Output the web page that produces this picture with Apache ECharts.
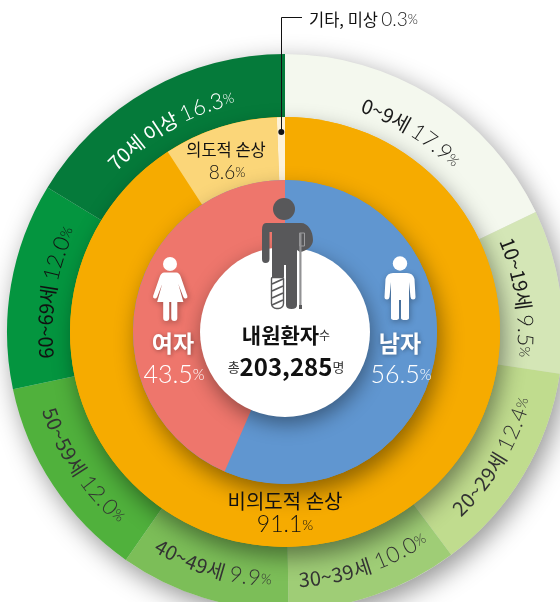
<!DOCTYPE html>
<html><head><meta charset="utf-8">
<style>html,body{margin:0;padding:0;background:#fff;overflow:hidden}#c{width:560px;height:602px}</style>
<script src="https://cdn.jsdelivr.net/npm/echarts@6/dist/echarts.min.js"></script>
</head><body><div id="c"></div>
<script>
const ageCategories = ['0~9세','10~19세','20~29세','30~39세','40~49세','50~59세','60~69세','70세 이상'];
const ageValues = [17.9,9.5,12.4,10.0,9.9,12.0,12.0,16.3];
const ageColors = ['#f4f8ee','#d4e6b6','#c0dc8e','#9fcd76','#7cbe58','#50b13c','#04953f','#057a3a'];
const ageTextColors = ['#1a1a1a','#1a1a1a','#333333','#333333','#333333','#333333','#111111','#ffffff'];
const injuryCategories = ['비의도적 손상','의도적 손상','기타, 미상'];
const injuryValues = [91.1,8.6,0.3];
const injuryColors = ['#f6ab00','#fbd679','#fdf2d8'];
const sexCategories = ['남자','여자'];
const sexValues = [56.5,43.5];
const sexColors = ['#6096d0','#ee766c'];
const totalLabel = '203,285';

const CX=285, CY=332;
const R={hub:85,sex:152,inj:215,age:278};
const chart=echarts.init(document.getElementById('c'),null,{renderer:'canvas'});
const KR='"Noto Sans CJK KR"', LIGHT='Lato';
const mctx=document.createElement('canvas').getContext('2d');

function caster(r,z,color,blur,ox,oy,alpha){
  return {type:'pie',silent:true,z:z,radius:[0,r],center:[CX,CY],startAngle:90,label:{show:false},labelLine:{show:false},animation:false,
    data:[{value:1,itemStyle:{color:color,shadowBlur:blur,shadowOffsetX:ox,shadowOffsetY:oy,shadowColor:'rgba(0,0,0,'+alpha+')'}}]};
}
function ring(name,r0,r,cats,vals,cols,z,extra){
  return Object.assign({type:'pie',name:name,silent:true,z:z,radius:[r0,r],center:[CX,CY],startAngle:90,clockwise:true,animation:false,
    label:{show:false},labelLine:{show:false},itemStyle:{borderWidth:0},
    data:cats.map((c,i)=>({name:c,value:vals[i],itemStyle:{color:cols[i]}}))},extra||{});
}

function arcChars(segs,midDeg,r,flip,color){
  const els=[];let total=0;
  const runs=[];
  segs.forEach(s=>{
    const f=(s.w||400)+' '+s.size+'px '+s.font;mctx.font=f;
    for(const ch of s.text){const w=mctx.measureText(ch).width+(s.ls||0);runs.push({ch,w,s});total+=w;}
  });
  let off=-total/2;
  const dir=flip?-1:1;
  runs.forEach(o=>{
    const a=(midDeg*Math.PI/180)+dir*(off+o.w/2)/r;
    off+=o.w;
    if(o.ch===' ')return;
    els.push({type:'text',x:CX+r*Math.sin(a),y:CY-r*Math.cos(a),rotation:flip?-(a-Math.PI):-a,z:20,silent:true,
      style:{text:o.ch,fontFamily:o.s.font,fontSize:o.s.size,fontWeight:o.s.w||400,fill:color,align:'center',verticalAlign:'middle'}});
  });
  return els;
}
const graphics=[];
let cum=0;
ageCategories.forEach((c,i)=>{
  const mid=(cum+ageValues[i]/2)*3.6;cum+=ageValues[i];
  const flip=mid>100&&mid<260;
  const r=flip?248:240;
  graphics.push(...arcChars([
    {text:c+' ',font:KR,size:20},
    {text:ageValues[i].toFixed(1),font:LIGHT,size:22,w:300,ls:.5},
    {text:'%',font:LIGHT,size:14,w:300}
  ],mid,r,flip,ageTextColors[i]));
});
function rich(x,y,rows,extra){
  return Object.assign({type:'text',x,y,z:20,silent:true,style:Object.assign({text:rows.text,rich:rows.rich,align:'center',verticalAlign:'middle'},extra||{})},{});
}
const num=(s,c)=>({fontFamily:LIGHT,fontWeight:300,fontSize:s,fill:c});
const kr=(s,c,w)=>({fontFamily:KR,fontWeight:w||400,fontSize:s,fill:c});
const shadow={textShadowColor:'rgba(0,0,0,.35)',textShadowBlur:4,textShadowOffsetX:1,textShadowOffsetY:1};
graphics.push(
 rich(173,343,{text:'{a|'+sexCategories[1]+'}',rich:{a:Object.assign(kr(23,'#fff',700),shadow)}}),
 rich(174,375,{text:'{a|'+sexValues[1].toFixed(1)+'}{b|%}',rich:{a:num(25,'#fff'),b:num(15,'#fff')}}),
 rich(400,343,{text:'{a|'+sexCategories[0]+'}',rich:{a:Object.assign(kr(23,'#fff',700),shadow)}}),
 rich(401,375,{text:'{a|'+sexValues[0].toFixed(1)+'}{b|%}',rich:{a:num(25,'#fff'),b:num(15,'#fff')}}),
 rich(285,501,{text:'{a|'+injuryCategories[0]+'}',rich:{a:kr(20,'#111')}}),
 rich(285,525,{text:'{a|'+injuryValues[0].toFixed(1)+'}{b|%}',rich:{a:num(23,'#111'),b:num(14,'#111')}}),
 rich(226,150,{text:'{a|'+injuryCategories[1]+'}',rich:{a:kr(16.5,'#111')}}),
 rich(227,173,{text:'{a|'+injuryValues[1].toFixed(1)+'}{b|%}',rich:{a:num(19,'#111'),b:num(13,'#111')}}),
 rich(286,335,{text:'{a|내원환자}{b|수}',rich:{a:kr(21,'#111',700),b:kr(12,'#333')}}),
 rich(286,367,{text:'{b|총}{a|'+totalLabel+'}{b|명}',rich:{a:kr(24,'#111',700),b:kr(13,'#333')}}),
 {type:'text',x:309,y:20,z:20,silent:true,style:{text:'{a|'+injuryCategories[2]+'} {n|'+injuryValues[2].toFixed(1)+'}{b|%}',align:'left',verticalAlign:'middle',
   rich:{a:kr(16.5,'#111'),n:num(19,'#222'),b:num(13,'#222')}}},
 {type:'polyline',z:20,silent:true,shape:{points:[[302,17.5],[281.5,17.5],[281.5,132]]},style:{stroke:'#111',lineWidth:1,fill:null}},
 {type:'circle',z:20,silent:true,shape:{cx:281.3,cy:132,r:3},style:{fill:'#111'}}
);
const D='#58585a';
const iconShadow={shadowBlur:6,shadowColor:'rgba(0,0,0,.3)',shadowOffsetX:1,shadowOffsetY:2};
function pathEl(d,x,y,w,h,style){return {type:'path',shape:{pathData:d,x:x,y:y,width:w,height:h,layout:'cover'},style:style};}
const pictograms=[
 {type:'circle',shape:{cx:284,cy:209,r:11},style:{fill:D}},
 pathEl('M266 223 H301 C308 223 313 231 313 240 C313 246 307 251 300 252 L297 250 V305 Q297 309 291.5 309 Q286 309 286 305 V265 H284 V277 H272 V232 H269.5 V259 Q269.5 263 265.5 263 Q262 263 262 259 V230 Q262 223 266 223 Z',262,223,51,86,{fill:D}),
 {type:'rect',shape:{x:271.5,y:277.5,width:12,height:31,r:[1,1,5,5]},style:{fill:'#fff',stroke:D,lineWidth:1.4}},
 {type:'line',shape:{x1:272,y1:284,x2:283,y2:279},style:{stroke:D,lineWidth:1.8}},
 {type:'line',shape:{x1:272,y1:291,x2:283,y2:286},style:{stroke:D,lineWidth:1.8}},
 {type:'line',shape:{x1:272,y1:298,x2:283,y2:293},style:{stroke:D,lineWidth:1.8}},
 {type:'line',shape:{x1:272,y1:305,x2:283,y2:300},style:{stroke:D,lineWidth:1.8}},
 {type:'rect',shape:{x:299.5,y:233,width:5,height:13},style:{fill:'none',stroke:'#9c9c9e',lineWidth:1}},
 {type:'rect',shape:{x:299.3,y:233,width:2.2,height:74},style:{fill:'#929294'}},
 {type:'rect',shape:{x:299,y:305,width:3,height:4},style:{fill:D}},
 {type:'circle',shape:{cx:400,cy:263.5,r:7.2},style:{fill:'#fff'}},
 pathEl('M393 273 H407 Q413 273 414.5 279 L415.5 297 Q415.5 299.5 413 299.5 Q410.8 299.5 410.5 297 L409 282 V318 Q409 320 405 320 Q401 320 401 318 V300 H399 V318 Q399 320 395 320 Q391 320 391 318 V282 L389.5 297 Q389 299.5 387 299.5 Q384.5 299.5 384.5 297 L385.5 279 Q387 273 393 273 Z',384.5,273,31,47,Object.assign({fill:'#fff'},iconShadow)),
 {type:'circle',shape:{cx:170,cy:264,r:7},style:{fill:'#fff'}},
 pathEl('M164 272.5 H176 Q179 272.5 180.5 277 L187 296 Q187.5 298 185.5 298.5 Q184 299 183 297 L178 284 L183 302 H177 V318 Q177 321 174 321 Q171 321 171 318 V302 H169 V318 Q169 321 166 321 Q163 321 163 318 V302 H157 L162 284 L157 297 Q156 299 154.5 298.5 Q152.5 298 153 296 L159.5 277 Q161 272.5 164 272.5 Z',153,272.5,34.5,48.5,Object.assign({fill:'#fff'},iconShadow))
];

chart.setOption({
  backgroundColor:'#fff',animation:false,
  graphic:{elements:graphics},
  series:[
    caster(R.age,1,'#dddddd',26,5,8,.42),
    ring('연령',R.inj-1,R.age,ageCategories,ageValues,ageColors,2),
    caster(R.inj,3,injuryColors[0],22,4,10,.42),
    ring('손상',R.sex-1,R.inj,injuryCategories,injuryValues,injuryColors,4,{minAngle:2.2}),
    caster(R.sex,5,sexColors[0],22,4,10,.42),
    ring('성별',R.hub-1,R.sex,sexCategories,sexValues,sexColors,6),
    caster(R.hub,7,'#ffffff',20,2,7,.4),
    {type:'custom',coordinateSystem:'none',silent:true,z:10,data:[[0]],animation:false,
     renderItem:function(){return {type:'group',children:pictograms};}}
  ]
});
</script></body></html>
